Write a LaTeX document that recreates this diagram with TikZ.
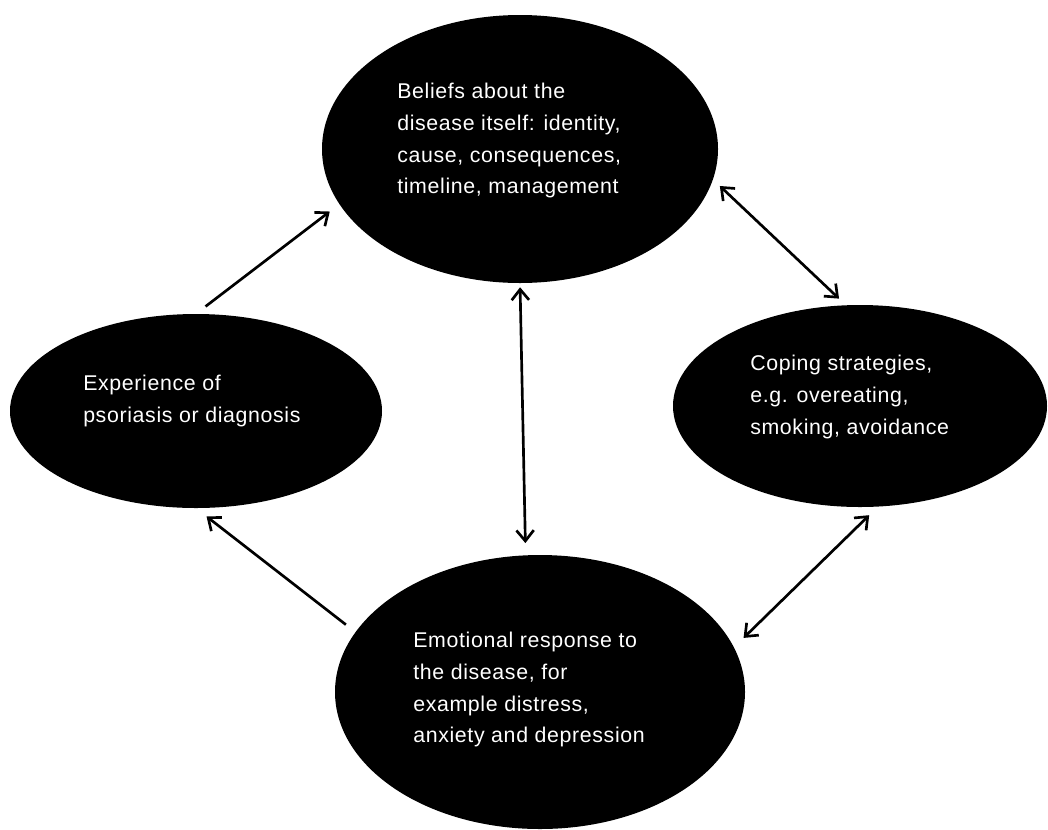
\documentclass[tikz,border=0pt]{standalone}
\usepackage{fontspec}
\newfontfamily\diagfont[LetterSpace=3]{Liberation Sans}
\usetikzlibrary{
    arrows.meta,
    shapes.geometric
}

\begin{document}
\begin{tikzpicture}[x=0.75pt, y=-0.75pt,
    blob/.style={ellipse, fill=black, draw=none, inner sep=0pt},
    words/.style={anchor=north west, inner sep=0pt, text=white, align=left,
        font=\diagfont\fontsize{16}{23.8}\selectfont},
    link/.style={line width=2pt, >={Straight Barb[length=8pt, width=13pt]}}]
    \useasboundingbox (0, 0) rectangle (1048, 829);
    \node[blob, minimum width=297pt, minimum height=201pt] (bel) at (520, 149) {};
    \node[blob, minimum width=279pt, minimum height=145.5pt] (exp) at (196, 411) {};
    \node[blob, minimum width=280.5pt, minimum height=151.5pt] (cop) at (860, 406) {};
    \node[blob, minimum width=307.5pt, minimum height=205.5pt] (emo) at (540, 692) {};
    \node[words] (belT) at (397, 83) {Beliefs about the\\disease itself: identity,\\cause, consequences,\\timeline, management};
    \node[words] (expT) at (83, 375) {Experience of\\psoriasis or diagnosis};
    \node[words] (copT) at (750, 355) {Coping strategies,\\e.g. overeating,\\smoking, avoidance};
    \node[words] (emoT) at (413, 632) {Emotional response to\\the disease, for\\example distress,\\anxiety and depression};
    \draw[link, ->, shorten <=9pt, shorten >=9pt] (exp.north) -- (bel.197);
    \draw[link, <->, shorten <=7pt, shorten >=7pt] (bel.-9) -- (cop.98);
    \draw[link, <->, shorten <=3pt, shorten >=9pt] (bel.south) -- (emo.96);
    \draw[link, ->, shorten <=9pt, shorten >=10pt] (emo.162) -- (exp.south);
    \draw[link, <->, shorten <=9pt, shorten >=10pt] (cop.-80) -- (emo.13);
\end{tikzpicture}
\end{document}
